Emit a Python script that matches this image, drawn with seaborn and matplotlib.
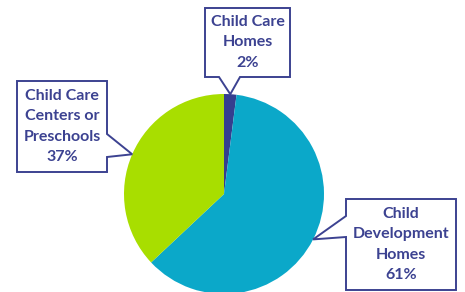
import matplotlib.pyplot as plt
import numpy as np
import seaborn as sns
from matplotlib.patches import Polygon

sns.set_theme(style='white')
plt.rcParams['font.family'] = ['Lato', 'DejaVu Sans']

# data
labels = ['Child Care\nHomes', 'Child\nDevelopment\nHomes', 'Child Care\nCenters or\nPreschools']
shares = [2, 61, 37]
pct_text = ['2%', '61%', '37%']
colors = ['#353F8F', '#0BA8C9', '#A8DE00']

navy = '#3C4291'
W, H = 465, 292

fig = plt.figure(figsize=(W / 100, H / 100), dpi=100)
fig.patch.set_facecolor('white')


def fig_px(x, y):
    # pixel position (from top-left) -> figure fraction
    return x / W, 1 - y / H


# pie axes: centre (224, 194), radius 100 px
ax = fig.add_axes([124 / W, (H - 194 - 100) / H, 200 / W, 200 / H])
wedges, _ = ax.pie(shares, colors=colors, startangle=90, counterclock=False,
                   radius=1, wedgeprops=dict(linewidth=0))
ax.set_xlim(-1, 1)
ax.set_ylim(-1, 1)
ax.set_aspect('equal')
ax.axis('off')

# callout boxes: (left, top, right, bottom) in px, side of pointer, base along side
boxes = [
    dict(rect=(205, 8, 290, 77), side='bottom', base=(219, 240)),
    dict(rect=(346, 199, 456, 290), side='left', base=(216, 237)),
    dict(rect=(17, 81, 107, 172), side='right', base=(134, 157)),
]

for w, lab, pct, b in zip(wedges, labels, pct_text, boxes):
    # pointer tip sits on the rim at the middle of each slice
    mid = np.deg2rad((w.theta1 + w.theta2) / 2)
    tip_disp = ax.transData.transform((np.cos(mid), np.sin(mid)))
    tip = tuple(fig.transFigure.inverted().transform(tip_disp))
    x0, y0, x1, y1 = b['rect']
    b0, b1 = b['base']
    if b['side'] == 'bottom':
        pts = [fig_px(x0, y0), fig_px(x1, y0), fig_px(x1, y1), fig_px(b1, y1),
               tip, fig_px(b0, y1), fig_px(x0, y1)]
    elif b['side'] == 'left':
        pts = [fig_px(x0, y0), fig_px(x1, y0), fig_px(x1, y1), fig_px(x0, y1),
               fig_px(x0, b1), tip, fig_px(x0, b0)]
    else:
        pts = [fig_px(x0, y0), fig_px(x1, y0), fig_px(x1, b0), tip,
               fig_px(x1, b1), fig_px(x1, y1), fig_px(x0, y1)]
    fig.add_artist(Polygon(pts, closed=True, transform=fig.transFigure,
                           facecolor='white', edgecolor=navy, linewidth=1.4,
                           joinstyle='miter'))
    cx, cy = fig_px((x0 + x1) / 2, (y0 + y1) / 2)
    fig.text(cx, cy, lab + '\n' + pct, ha='center', va='center',
             color=navy, fontsize=11.5, fontweight='bold', linespacing=1.6)

fig.savefig('out.png', dpi=100, facecolor='white')
